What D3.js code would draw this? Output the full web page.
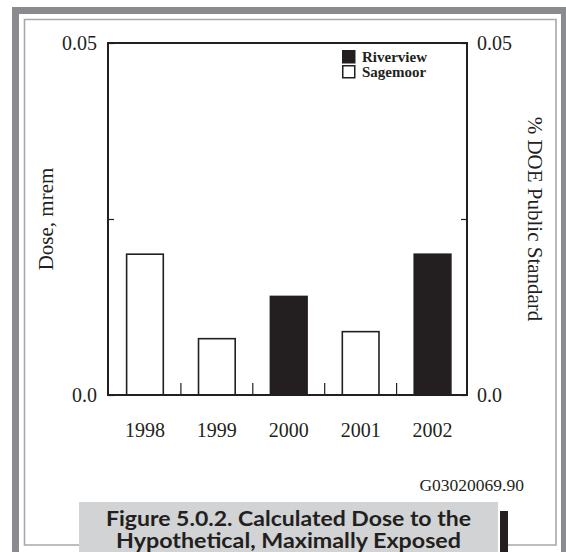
<!DOCTYPE html>
<html>
<head>
<meta charset="utf-8">
<script src="https://cdn.jsdelivr.net/npm/d3@7"></script>
<style>
  html, body { margin: 0; padding: 0; background: #ffffff; }
  svg { display: block; }
</style>
</head>
<body>
<script>
// ---- data ----
const years = ["1998", "1999", "2000", "2001", "2002"];
const dose = [0.020, 0.008, 0.014, 0.009, 0.020];
const site = ["Sagemoor", "Sagemoor", "Riverview", "Sagemoor", "Riverview"];
const yTickValues = [0, 0.025, 0.05];
const yTickLabels = ["0.0", "", "0.05"];
const legendItems = ["Riverview", "Sagemoor"];
const captionLines = ["Figure 5.0.2.  Calculated Dose to the", "Hypothetical, Maximally Exposed"];
const figureId = "G03020069.90";

const W = 566, H = 552;
const ink = "#231f20";
const serif = "'Liberation Serif', 'Times New Roman', serif";
const sans = "'Lato', 'Open Sans', sans-serif";
const fillFor = { Riverview: ink, Sagemoor: "#ffffff" };

const svg = d3.select("body").append("svg")
  .attr("width", W).attr("height", H);

// ---- frame ----
svg.append("rect")
  .attr("x", 15.5).attr("y", 10.5).attr("width", 549).attr("height", 600)
  .attr("fill", "none").attr("stroke", "#8a8b8f").attr("stroke-width", 7);

svg.append("path")
  .attr("d", "M79,545 H24.5 V19.5 H556 V545 H508")
  .attr("fill", "none").attr("stroke", "#a7a8ab").attr("stroke-width", 1.6);

// ---- plot area ----
const plot = { left: 108, right: 467, top: 43, bottom: 395 };

const x = d3.scaleBand()
  .domain(years)
  .range([109, 468.5])
  .paddingInner(0.49)
  .paddingOuter(0.245);

const y = d3.scaleLinear()
  .domain([0, 0.05])
  .range([plot.bottom, plot.top]);

// bars
svg.append("g").selectAll("rect")
  .data(years.map((yr, i) => ({ yr, v: dose[i], s: site[i] })))
  .join("rect")
  .attr("x", d => x(d.yr))
  .attr("y", d => y(d.v))
  .attr("width", x.bandwidth())
  .attr("height", d => plot.bottom - y(d.v))
  .attr("fill", d => fillFor[d.s])
  .attr("stroke", ink)
  .attr("stroke-width", 1.6);

// small category separators
const step = x.step();
svg.append("g").selectAll("line")
  .data(years.slice(0, -1))
  .join("line")
  .attr("x1", d => x(d) + x.bandwidth() + (step - x.bandwidth()) / 2)
  .attr("x2", d => x(d) + x.bandwidth() + (step - x.bandwidth()) / 2)
  .attr("y1", plot.bottom)
  .attr("y2", plot.bottom - 12)
  .attr("stroke", ink)
  .attr("stroke-width", 1.2);

// box
svg.append("rect")
  .attr("x", plot.left).attr("y", plot.top)
  .attr("width", plot.right - plot.left).attr("height", plot.bottom - plot.top)
  .attr("fill", "none").attr("stroke", ink).attr("stroke-width", 2);

function styleAxis(g) {
  g.select(".domain").remove();
  g.selectAll("line").attr("stroke", ink).attr("stroke-width", 1.2);
  g.selectAll("text")
    .attr("fill", ink)
    .style("font-family", serif)
    .style("font-size", "20px");
}

const fmt = d => yTickLabels[yTickValues.indexOf(d)];

svg.append("g")
  .attr("transform", `translate(${plot.left},0)`)
  .call(d3.axisLeft(y).tickValues(yTickValues).tickFormat(fmt)
    .tickSize(-6).tickSizeOuter(0).tickPadding(11))
  .call(styleAxis);

svg.append("g")
  .attr("transform", `translate(${plot.right},0)`)
  .call(d3.axisRight(y).tickValues(yTickValues).tickFormat(fmt)
    .tickSize(-6).tickSizeOuter(0).tickPadding(10))
  .call(styleAxis);

svg.append("g")
  .attr("transform", `translate(0,${plot.bottom})`)
  .call(d3.axisBottom(x).tickSize(0).tickPadding(28))
  .call(styleAxis);

// axis titles
svg.append("text")
  .attr("transform", `translate(53,${(plot.top + plot.bottom) / 2}) rotate(-90)`)
  .attr("text-anchor", "middle")
  .attr("fill", ink)
  .style("font-family", serif).style("font-size", "21px")
  .text("Dose, mrem");

svg.append("text")
  .attr("transform", `translate(528,${(plot.top + plot.bottom) / 2}) rotate(90)`)
  .attr("text-anchor", "middle")
  .attr("fill", ink)
  .style("font-family", serif).style("font-size", "21px")
  .text("% DOE Public Standard");

// legend
const lg = svg.append("g").attr("transform", "translate(342,50)");
legendItems.forEach((name, i) => {
  lg.append("rect")
    .attr("x", 0.75).attr("y", i * 15 + 0.75)
    .attr("width", 12).attr("height", 12)
    .attr("fill", fillFor[name]).attr("stroke", ink).attr("stroke-width", 1.5);
  lg.append("text")
    .attr("x", 20).attr("y", i * 15 + 12)
    .attr("fill", ink)
    .style("font-family", serif).style("font-size", "15px").style("font-weight", "bold")
    .text(name);
});

// figure id
svg.append("text")
  .attr("x", 524).attr("y", 491)
  .attr("text-anchor", "end")
  .attr("fill", ink)
  .style("font-family", serif).style("font-size", "17.5px")
  .text(figureId);

// caption
svg.append("rect")
  .attr("x", 79).attr("y", 502).attr("width", 419).attr("height", 60)
  .attr("fill", "#d1d3d4");
svg.append("rect")
  .attr("x", 500).attr("y", 511).attr("width", 8).attr("height", 60)
  .attr("fill", ink);

const capWidths = [365, 345];
const capBase = [526, 548];
captionLines.forEach((t, i) => {
  svg.append("text")
    .attr("x", 288.5).attr("y", capBase[i])
    .attr("text-anchor", "middle")
    .attr("textLength", capWidths[i])
    .attr("lengthAdjust", "spacingAndGlyphs")
    .attr("fill", ink)
    .style("font-family", sans).style("font-size", "20px").style("font-weight", "bold")
    .text(t);
});
</script>
</body>
</html>
